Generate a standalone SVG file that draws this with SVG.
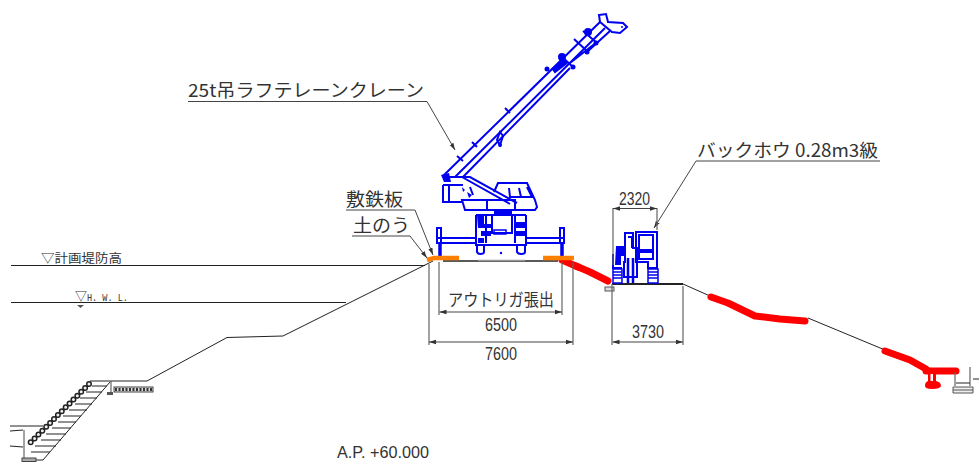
<svg xmlns="http://www.w3.org/2000/svg" width="979" height="462" viewBox="0 0 979 462">
<style>
text{font-family:"Noto Sans CJK JP","Liberation Sans",sans-serif;fill:#333;}
.l{font-size:18px}.s{font-size:12px}
.d{font-size:18px;font-family:"Liberation Sans",sans-serif}
.m{font-size:11px;font-family:"Liberation Mono","Noto Sans CJK JP",monospace}
.k{fill:none;stroke:#222;stroke-width:1}
.g{fill:none;stroke:#666;stroke-width:1.200}
.h{fill:none;stroke:#444;stroke-width:1}
.b{fill:none;stroke:#0000f0;stroke-width:2}
.bf{fill:#0000f0;stroke:none}
.r{fill:none;stroke:#f00;stroke-width:7;stroke-linejoin:round;stroke-linecap:round}
.o{fill:none;stroke:#ff8000;stroke-width:4.500}
</style>
<defs>
<marker id="a" markerWidth="7" markerHeight="6" refX="7" refY="3" orient="auto-start-reverse"><path d="M0 .8L7 3L0 5.200z" fill="#333"/></marker>
</defs>
<g id="terrain">
<path class="k" d="M11 265.500H425M11 302.500H346"/>
<path class="k" d="M147 381L227 337.500L283 336L427 264L433 261M683 284L710 296M808 318L885 350M973 379H979"/>
<path d="M443 261H558" fill="none" stroke="#222" stroke-width="1.600"/>
<path d="M478 260.500H525" fill="none" stroke="#999" stroke-width="1.500"/>
<path d="M612 284H683" fill="none" stroke="#222" stroke-width="1.800"/>
</g>
<g id="revetment">
<path class="k" d="M90 381H147M110 382L43 460H33"/>
<path class="k" stroke-width="1.500" d="M92 386H107M86 392H102M80 398H97M75 404H92M69 410H87M63 416H81M58 422H76M52 428H71M46 434H66M41 440H61M35 446H56M31 452H50"/>
<path fill="none" stroke="#222" stroke-width="6" stroke-dasharray="0 5.500" stroke-linecap="round" d="M89 384L28 445"/>
<path fill="none" stroke="#eee" stroke-width="3" stroke-dasharray="0 5.500" stroke-linecap="round" d="M89 384L28 445"/>
<path class="k" d="M10 426H43M10 431L23 430M10 446L23 447"/>
<path class="g" d="M24 430V458"/>
<rect x="22" y="458" width="14" height="3.500" fill="#aaa" stroke="#444"/>
<path class="g" d="M111 381V393"/>
<rect x="107" y="392" width="6" height="3" fill="#555"/>
<rect x="114" y="387" width="39" height="5" fill="#ddd" stroke="#444"/>
<path d="M115 389.500H152" stroke="#333" stroke-width="3" stroke-dasharray="2 1.500"/>
</g>
<g id="crane">
<path class="b" d="M443 176L600 22M455 177L605 28M463 177L570 68M570 63L597 42M587 52L610 31"/>
<path class="b" d="M505 108L510 113M472 142L477 147M457 156L463 161M560 55L573 67M574 39L588 52M583 31L597 43"/>
<path class="b" d="M500 132L497 140L500 145L503 136Z"/>
<path d="M553 71L566 61" stroke="#0000f0" stroke-width="6"/>
<circle class="bf" cx="547" cy="69" r="2.500"/><circle class="bf" cx="573" cy="67" r="2.500"/><circle class="bf" cx="587" cy="52" r="2.500"/><circle class="bf" cx="596" cy="43" r="2.500"/><circle class="bf" cx="588" cy="32" r="4"/><circle class="bf" cx="562" cy="57" r="4"/><circle class="bf" cx="500" cy="145" r="2"/>
<path class="b" d="M599 15L606 14L608 22L623 23L627 27L620 33L612 32L600 22Z"/>
<circle class="bf" cx="622" cy="27" r="1"/>
<path class="bf" d="M441 175L449 173L451 182L444 182Z"/>
<path class="b" d="M445 177H470L517 203M462 177L510 204M443 185V202H462M443 185H463M449 185V202M462 200H515V210H465ZM487 200V210M470 187L473 195"/>
<path class="bf" d="M462 187L465 190L463 192ZM467 192L472 195L469 198Z"/>
<path class="b" d="M494 192L498 183H527L535 200L537 207L535 210H515M509 188L510 197H532L527 187M519 188L521 197"/>
<path class="b" d="M476 215V245H526V215M476 215H512M492 215V233H512V215M512 215H526M486 215V243M515 215V243"/>
<path class="bf" d="M477 215H484V224H491V228H478ZM481 231H491V236H481ZM515 222H525V228H515ZM515 231H525V236H515ZM478 238H484V243H478ZM494 211H512V215H494Z"/>
<rect x="494" y="230" width="12" height="4" fill="none" stroke="#0000f0" stroke-width="1.500"/>
<path class="b" d="M437 238H476M526 238H564M437 243H476M526 243H564"/>
<path class="b" d="M437 228H441V243H437ZM560 228H564V243H560Z"/>
<path d="M440 243V256M562 243V256" stroke="#0000f0" stroke-width="3.500"/>
<path class="b" d="M477 245V252Q478 254 480 254Q484 254 484 252V245M517 245V252Q518 254 521 254Q525 254 525 252V245"/>
<circle class="bf" cx="501" cy="253" r="1.200"/>
</g>
<g id="backhoe">
<path class="b" d="M636 232H657V268H648V262H636ZM639 235H653V250H639ZM639 252H653V259H639Z"/>
<path class="b" d="M625 233H633V248H637V277H624V262H625ZM628 237H632V248"/>
<path d="M628 258V283M633 258V283" stroke="#0000f0" stroke-width="2.500"/>
<path class="bf" d="M616 246H625V256H621V265H615Z"/>
<path class="b" d="M613 254V268H622"/>
<path d="M613 269H622V283H613ZM648 269H658V283H648Z" fill="#fff" stroke="#0000f0" stroke-width="1.500"/>
<path d="M613 272H622M613 275H622M613 278H622M648 272H658M648 275H658M648 278H658" stroke="#0000f0" stroke-width="1.500"/>
</g>
<g id="protection">
<path class="r" stroke-width="5" d="M562 260L578 267"/>
<path class="r" d="M576 266L590 272L608 281"/>
<path class="r" d="M711 297L728 303L755 316L780 319L805 321"/>
<path class="r" stroke-width="6" d="M885 351L910 360L926 369"/>
<path class="r" stroke-width="6" d="M926 371H956"/>
<path d="M928 371H936V381Q941 382 941 386Q940 389 932 389Q925 389 925 386Q925 382 928 381Z" fill="#f00"/>
<rect x="930.500" y="374" width="2.500" height="7" fill="#fff"/>
<path class="o" d="M427 260L434 258H459M543 258H574"/>
<rect x="605" y="287" width="9" height="4" fill="#ddd" stroke="#555"/>
<path class="g" d="M955 372V386M970 367V386"/>
<path d="M953 387H973V393H953ZM953 390H973" fill="#eee" stroke="#555"/>
<path class="k" d="M956 383H970"/>
</g>
<g id="connectors">
<path class="h" d="M188 101.500H427L455 150" marker-end="url(#a)"/>
<path class="h" d="M346 210H415L433 255" marker-end="url(#a)"/>
<path class="h" d="M352 236H410L427 258" marker-end="url(#a)"/>
<path class="h" d="M696 161H880M696 161L654 228" marker-end="url(#a)"/>
<path class="g" d="M439 262V315M562 262V315M429 264V345M573 262V345M613 208V265M657 208V230M612 284V345M683 286V345"/>
<path class="h" d="M439.500 312H562" marker-start="url(#a)" marker-end="url(#a)"/>
<path class="h" d="M429 342H573" marker-start="url(#a)" marker-end="url(#a)"/>
<path class="h" d="M613 208.500H657" marker-start="url(#a)" marker-end="url(#a)"/>
<path class="h" d="M612.500 342H683" marker-start="url(#a)" marker-end="url(#a)"/>
</g>
<g id="labels">
<text class="l" x="188" y="97" textLength="236" lengthAdjust="spacingAndGlyphs">25t吊ラフテレーンクレーン</text>
<text class="l" x="346" y="206" textLength="57" lengthAdjust="spacingAndGlyphs">敷鉄板</text>
<text class="l" x="353" y="232" textLength="57" lengthAdjust="spacingAndGlyphs">土のう</text>
<text class="l" x="697" y="157" textLength="181" lengthAdjust="spacingAndGlyphs">バックホウ 0.28m3級</text>
<text class="s" x="41" y="263" textLength="81" lengthAdjust="spacingAndGlyphs">▽計画堤防高</text>
<text class="s" x="75" y="301" textLength="12">▽</text>
<text class="m" x="87" y="301" textLength="41" lengthAdjust="spacingAndGlyphs">H. W. L.</text>
<path d="M77 305H84L80.500 308Z" fill="#555"/>
<text class="l" style="font-size:17px" x="448" y="306" textLength="106" lengthAdjust="spacingAndGlyphs">アウトリガ張出</text>
<text class="d" style="font-size:19px" x="485" y="331" textLength="32" lengthAdjust="spacingAndGlyphs">6500</text>
<text class="d" style="font-size:19px" x="485" y="360" textLength="32" lengthAdjust="spacingAndGlyphs">7600</text>
<text class="d" x="619" y="205" textLength="31" lengthAdjust="spacingAndGlyphs">2320</text>
<text class="d" x="632" y="338" textLength="32" lengthAdjust="spacingAndGlyphs">3730</text>
<text class="d" style="font-size:16px" x="337" y="458" textLength="92" lengthAdjust="spacingAndGlyphs">A.P. +60.000</text>
</g>
</svg>
